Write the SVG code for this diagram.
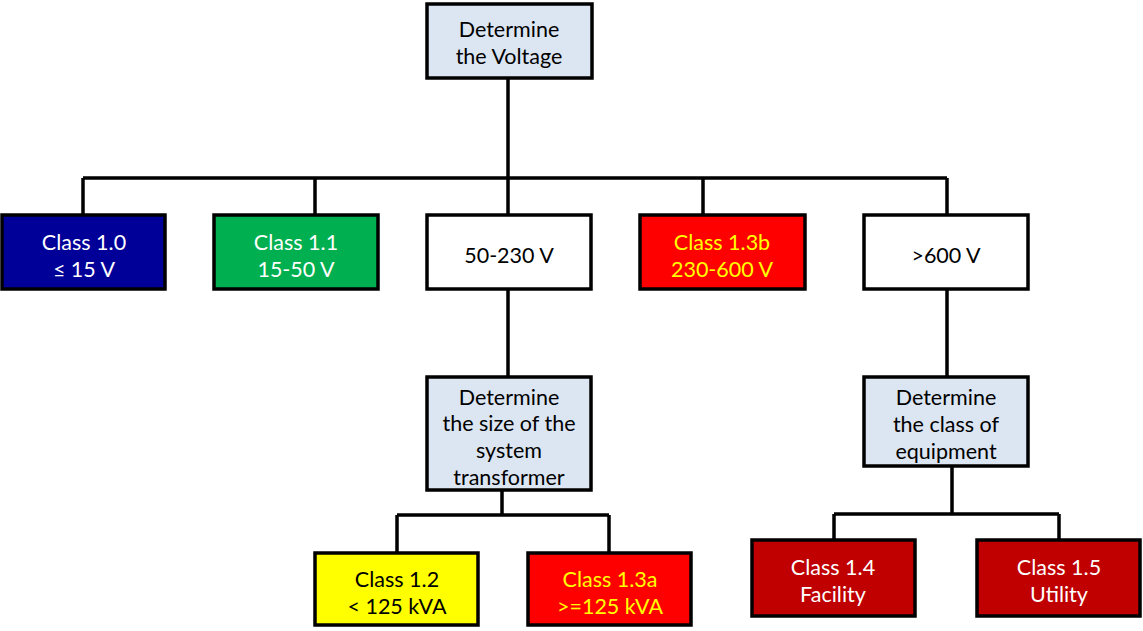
<svg xmlns="http://www.w3.org/2000/svg" width="1143" height="631" viewBox="0 0 1143 631">
<style>
.box{stroke:#000;stroke-width:3.5}
.q{fill:#dce6f2}
.w{fill:#fff}
.t{font-family:Lato,"Liberation Sans",sans-serif;font-size:21.5px;text-anchor:middle;fill:#000}
.tw{fill:#fff}
.ty{fill:#ffff00}
.c{fill:none;stroke:#000;stroke-width:3.5}
</style>
<rect width="1143" height="631" fill="#fff"/>
<g id="connectors">
<path class="c" d="M508 78V178M83 178H947M83 178V215M315 178V215M508 178V215M703 178V215M947 178V215"/>
<path class="c" d="M508 289V377M502 490V515M397 515H609M397 515V553M609 515V553"/>
<path class="c" d="M947 289V377M952 466V514M834 514H1059M834 514V540M1059 514V540"/>
</g>
<g id="n-voltage"><rect class="box q" x="427" y="4" width="165" height="74"/><text class="t" x="509" y="37">Determine</text><text class="t" x="509" y="64">the Voltage</text></g>
<g id="n-c10"><rect class="box" fill="#000099" x="2" y="215" width="163" height="74"/><text class="t tw" x="84" y="250">Class 1.0</text><text class="t tw" x="84" y="277">≤ 15 V</text></g>
<g id="n-c11"><rect class="box" fill="#00b050" x="214" y="215" width="164" height="74"/><text class="t tw" x="296" y="250">Class 1.1</text><text class="t tw" x="296" y="277">15-50  V</text></g>
<g id="n-50230"><rect class="box w" x="427" y="215" width="164" height="74"/><text class="t" x="509" y="263">50-230 V</text></g>
<g id="n-c13b"><rect class="box" fill="#ff0000" x="640" y="215" width="165" height="74"/><text class="t ty" x="722" y="250">Class 1.3b</text><text class="t ty" x="722" y="277">230-600 V</text></g>
<g id="n-600"><rect class="box w" x="864" y="215" width="164" height="74"/><text class="t" x="946" y="263">&gt;600 V</text></g>
<g id="n-size"><rect class="box q" x="427" y="377" width="164" height="113"/><text class="t" x="509" y="405">Determine</text><text class="t" x="509" y="431">the size of the</text><text class="t" x="509" y="458">system</text><text class="t" x="509" y="485">transformer</text></g>
<g id="n-c12"><rect class="box" fill="#ffff00" x="315" y="553" width="163" height="72"/><text class="t" x="397" y="587">Class 1.2</text><text class="t" x="397" y="614">&lt; 125 kVA</text></g>
<g id="n-c13a"><rect class="box" fill="#ff0000" x="528" y="553" width="163" height="72"/><text class="t ty" x="610" y="587">Class 1.3a</text><text class="t ty" x="610" y="614">&gt;=125 kVA</text></g>
<g id="n-class"><rect class="box q" x="864" y="377" width="164" height="89"/><text class="t" x="946" y="405">Determine</text><text class="t" x="946" y="432">the class of</text><text class="t" x="946" y="459">equipment</text></g>
<g id="n-c14"><rect class="box" fill="#c00000" x="752" y="540" width="163" height="76"/><text class="t tw" x="833" y="575">Class 1.4</text><text class="t tw" x="833" y="602">Facility</text></g>
<g id="n-c15"><rect class="box" fill="#c00000" x="977" y="540" width="163" height="76"/><text class="t tw" x="1059" y="575">Class 1.5</text><text class="t tw" x="1059" y="602">Utility</text></g>
</svg>
